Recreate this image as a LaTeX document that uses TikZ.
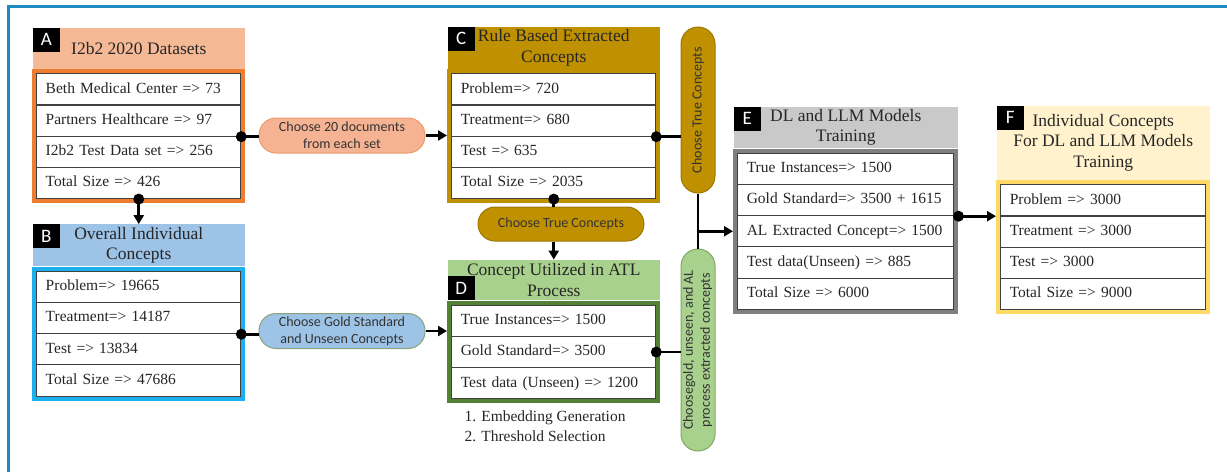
\documentclass[tikz,border=0pt]{standalone}
\usepackage{fontspec}
\setmainfont{Liberation Serif}
\newfontfamily\calfont{Carlito}
\usetikzlibrary{positioning,matrix,arrows.meta,calc}

\definecolor{frameblue}{HTML}{1E8BC3}
\definecolor{aHead}{HTML}{F5B995}
\definecolor{aLine}{HTML}{ED7D31}
\definecolor{bHead}{HTML}{9DC3E6}
\definecolor{bLine}{HTML}{1CB0EE}
\definecolor{cHead}{HTML}{BF9000}
\definecolor{dHead}{HTML}{A9D18E}
\definecolor{dLine}{HTML}{548235}
\definecolor{eHead}{HTML}{C9C9C9}
\definecolor{eLine}{HTML}{7F7F7F}
\definecolor{fHead}{HTML}{FFF2CC}
\definecolor{fLine}{HTML}{FFD966}
\definecolor{pOrange}{HTML}{F5B393}
\definecolor{pOrangeLine}{HTML}{EE9B6E}
\definecolor{pBlueLine}{HTML}{8AA37A}
\definecolor{goldLine}{HTML}{9E7700}
\definecolor{pGreenLine}{HTML}{7FA862}

\tikzset{
  cell/.style={draw=black!75, fill=white, line width=1.1pt, minimum height=31.2pt,
    text height=11pt, text depth=3.5pt, inner xsep=9pt, align=left, text=black!85,
    font=\fontsize{15.5}{18}\selectfont},
  tbl/.style={matrix of nodes, fill=#1, inner sep=4pt, row sep=-1.1pt, nodes={cell}},
  hdr/.style={fill=#1, minimum width=212pt, inner sep=2pt, align=center, text=black!85,
    font=\fontsize{17.5}{20.5}\selectfont},
  tag/.style={fill=black, text=white, minimum width=27pt, minimum height=24pt, inner sep=0pt,
    font=\calfont\fontsize{19}{19}\selectfont},
  pill/.style={fill=#1, rounded corners=17pt, line width=1pt, align=center, inner sep=0pt,
    text=black!80, font=\calfont\fontsize{14}{17}\selectfont},
  link/.style={line width=2.6pt},
  arr/.style={line width=2.6pt, -{Triangle[length=9pt,width=10pt]}},
}

\begin{document}
\begin{tikzpicture}[x=1pt, y=-1pt]
\useasboundingbox (0,0) rectangle (1227,472);
\draw[frameblue, line width=3pt] (8,472) -- (8,6) -- (1227,6);

% A
\matrix (a) [tbl=aLine, nodes={text width=186pt}, anchor=north west] at (32,69) {
  Beth Medical Center => 73 \\
  Partners Healthcare => 97 \\
  I2b2 Test Data set => 256 \\
  Total Size => 426 \\
};
\node[hdr=aHead, minimum height=41pt, above=0pt of a] (ah) {I2b2 2020 Datasets};
\node[tag, anchor=north west] (at) at (ah.north west) {A};

% B
\matrix (b) [tbl=bLine, nodes={text width=186pt}, anchor=north west] at (32,266.5) {
  Problem=> 19665 \\
  Treatment=> 14187 \\
  Test => 13834 \\
  Total Size => 47686 \\
};
\node[hdr=bHead, minimum height=42pt, above=0pt of b] (bh) {Overall Individual\\Concepts};
\node[tag, anchor=north west] (bt) at (bh.north west) {B};

% C
\matrix (c) [tbl=cHead, nodes={text width=186pt}, anchor=north west] at (447,69) {
  Problem=> 720 \\
  Treatment=> 680 \\
  Test => 635 \\
  Total Size => 2035 \\
};
\node[hdr=cHead, minimum height=42pt, above=0pt of c] (ch) {Rule Based Extracted\\Concepts};
\node[tag, anchor=north west] (ct) at (ch.north west) {C};

% D
\matrix (d) [tbl=dLine, nodes={text width=186pt}, anchor=north west] at (447,300.5) {
  True Instances=> 1500 \\
  Gold Standard=> 3500 \\
  Test data (Unseen) => 1200 \\
};
\node[hdr=dHead, minimum height=40.5pt, above=0pt of d] (dh) {Concept Utilized in ATL\\Process};
\node[tag, anchor=south west] (dt) at (dh.south west) {D};
\node[anchor=north west, align=left, text=black!85, font=\fontsize{15.5}{20}\selectfont] (steps)
  at ([shift={(14,4)}]d.south west) {1. Embedding Generation\\2. Threshold Selection};

% E
\matrix (e) [tbl=eLine, nodes={text width=198pt}, anchor=north west] at (733,148.5) {
  True Instances=> 1500 \\
  Gold Standard=> 3500 + 1615 \\
  AL Extracted Concept=> 1500 \\
  Test data(Unseen) => 885 \\
  Total Size => 6000 \\
};
\node[hdr=eHead, minimum width=224pt, minimum height=41.5pt, above=0pt of e] (eh) {DL and LLM Models\\Training};
\node[tag, anchor=north west] (et) at (eh.north west) {E};

% F
\matrix (f) [tbl=fLine, nodes={text width=187pt}, anchor=north west] at (996,180) {
  Problem => 3000 \\
  Treatment => 3000 \\
  Test => 3000 \\
  Total Size => 9000 \\
};
\node[hdr=fHead, minimum width=213pt, minimum height=74pt, above=0pt of f] (fh) {Individual Concepts\\For DL and LLM Models\\Training};
\node[tag, anchor=north west] (ft) at (fh.north west) {F};

% pills
\node[pill=pOrange, draw=pOrangeLine, minimum width=166pt, minimum height=35pt] (p1) at (342,135.5)
  {Choose 20 documents\\from each set};
\node[pill=bHead, draw=pBlueLine, minimum width=166pt, minimum height=35pt] (p2) at (342,331)
  {Choose Gold Standard\\and Unseen Concepts};
\node[pill=cHead, draw=goldLine, minimum width=166pt, minimum height=34pt] (p3) at (561,224)
  {Choose True Concepts};
\node[pill=cHead, draw=goldLine, minimum width=34pt, minimum height=166pt] (p4) at (698,110)
  {\rotatebox{90}{Choose True Concepts}};
\node[pill=dHead, draw=pGreenLine, minimum width=34pt, minimum height=202pt] (p5) at (698,350)
  {\rotatebox{90}{\begin{tabular}{@{}c@{}}Choosegold, unseen, and AL\\process extracted concepts\end{tabular}}};

% connectors
\draw[link] (a-2-1.south east) -- (a-2-1.south east -| p1.west);
\draw[arr] (p1.east) -- (p1.east -| c.west);
\draw[arr] (a-4-1.south) -- (bh.north);
\draw[link] (b-2-1.south east) -- (b-2-1.south east -| p2.west);
\draw[arr] (p2.east) -- (p2.east -| d.west);
\draw[link] (c-2-1.south east) -- (c-2-1.south east -| p4.west);
\draw[link] (c-4-1.south) -- (c-4-1.south |- p3.north);
\draw[arr] (p3.south -| dh.north) -- (dh.north);
\draw[link] (d-2-1.east) -- (d-2-1.east -| p5.west);
\draw[link] (p4.south) -- (p5.north);
\coordinate (j) at (p4.south |- e-3-1.west);
\draw[arr] (j) -- (j -| e.west);
\draw[arr] (e-2-1.south -| e.east) -- (e-2-1.south -| f.west);

\fill (a-2-1.south east) circle (5.5pt);
\fill (a-4-1.south) circle (5.5pt);
\fill (b-2-1.south east) circle (5.5pt);
\fill (c-2-1.south east) circle (5.5pt);
\fill (c-4-1.south) circle (5.5pt);
\fill (d-2-1.east) circle (5.5pt);
\fill (e-2-1.south -| e.east) circle (5.5pt);
\end{tikzpicture}
\end{document}
